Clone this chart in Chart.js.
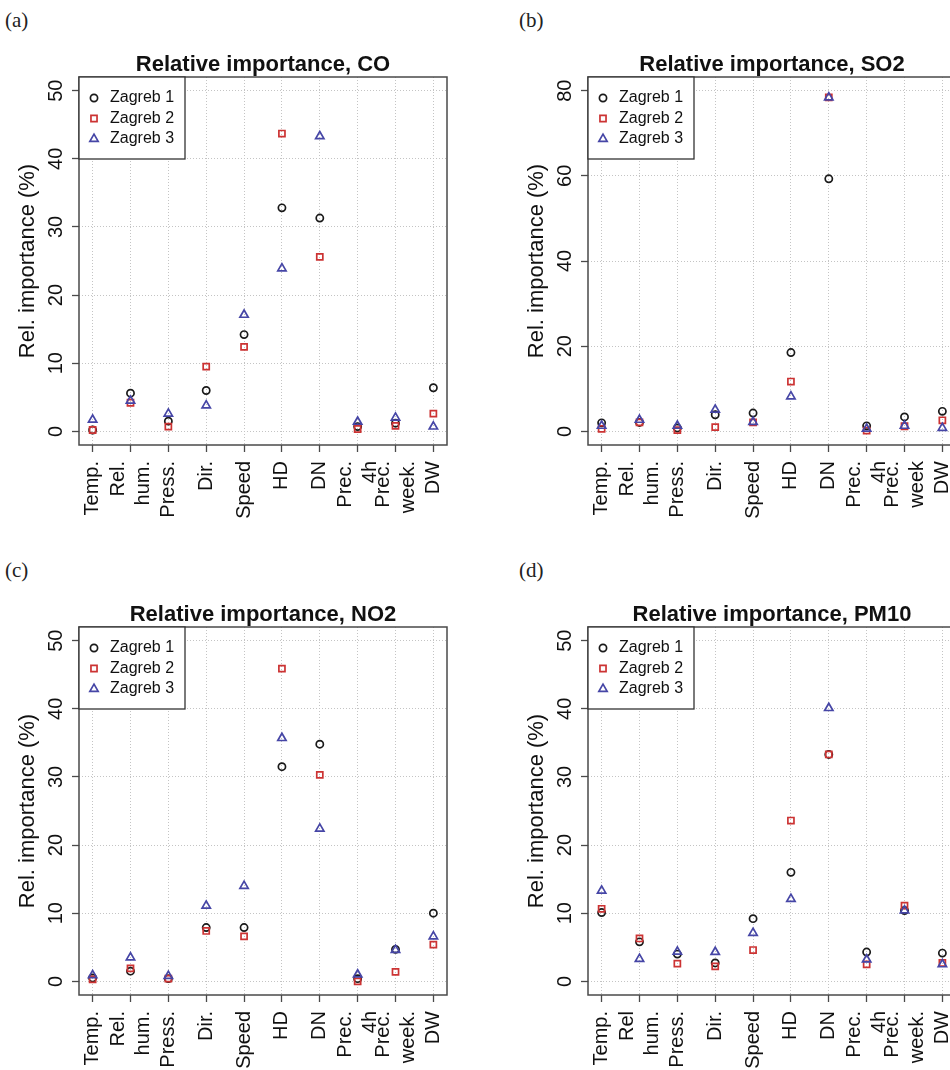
<!DOCTYPE html>
<html>
<head>
<meta charset="utf-8">
<script src="https://cdn.jsdelivr.net/npm/chart.js@4.4.1/dist/chart.umd.min.js"></script>
<style>
  html, body { margin: 0; padding: 0; background: #fff; }
  body { width: 950px; height: 1070px; overflow: hidden; position: relative; }
  canvas { position: absolute; }
  .tag { position: absolute; font-family: "Liberation Serif", "Times New Roman", serif; font-size: 21px; line-height: 21px; color: #222; }
</style>
</head>
<body>
<div class="tag" style="left:5px;top:10px">(a)</div>
<div class="tag" style="left:519px;top:10px">(b)</div>
<div class="tag" style="left:5px;top:560px">(c)</div>
<div class="tag" style="left:519px;top:560px">(d)</div>

<canvas id="chartCO" width="480" height="530" style="left:0px;top:0px"></canvas>
<canvas id="chartSO2" width="480" height="530" style="left:509px;top:0px"></canvas>
<canvas id="chartNO2" width="480" height="530" style="left:0px;top:550px"></canvas>
<canvas id="chartPM10" width="480" height="530" style="left:509px;top:550px"></canvas>

<script>
// --- data ---
const stations = ['Zagreb 1', 'Zagreb 2', 'Zagreb 3'];

const labelsCO   = [['Temp.'], ['Rel.', 'hum.'], ['Press.'], ['Dir.'], ['Speed'], ['HD'], ['DN'], ['Prec.', '4h'], ['Prec.', 'week.'], ['DW']];
const labelsSO2  = [['Temp.'], ['Rel.', 'hum.'], ['Press.'], ['Dir.'], ['Speed'], ['HD'], ['DN'], ['Prec.', '4h'], ['Prec.', 'week'], ['DW']];
const labelsNO2  = [['Temp.'], ['Rel.', 'hum.'], ['Press.'], ['Dir.'], ['Speed'], ['HD'], ['DN'], ['Prec.', '4h'], ['Prec.', 'week.'], ['DW']];
const labelsPM10 = [['Temp.'], ['Rel', 'hum.'], ['Press.'], ['Dir.'], ['Speed'], ['HD'], ['DN'], ['Prec.', '4h'], ['Prec.', 'week.'], ['DW']];

const coZ1 = [0.2, 5.6, 1.5, 6.0, 14.2, 32.8, 31.3, 0.7, 1.2, 6.4];
const coZ2 = [0.2, 4.2, 0.7, 9.5, 12.4, 43.7, 25.6, 0.35, 0.8, 2.6];
const coZ3 = [1.7, 4.5, 2.6, 3.8, 17.1, 23.9, 43.3, 1.4, 2.0, 0.7];

const so2Z1 = [2.0, 2.1, 0.8, 3.9, 4.3, 18.5, 59.3, 1.3, 3.4, 4.7];
const so2Z2 = [0.6, 2.1, 0.3, 1.0, 2.1, 11.7, 78.4, 0.2, 1.2, 2.6];
const so2Z3 = [1.3, 2.7, 1.3, 5.1, 2.2, 8.2, 78.4, 0.6, 1.3, 0.8];

const no2Z1 = [0.5, 1.5, 0.4, 7.9, 7.9, 31.5, 34.8, 0.4, 4.7, 10.0];
const no2Z2 = [0.3, 1.9, 0.4, 7.4, 6.6, 45.9, 30.3, 0.0, 1.4, 5.4];
const no2Z3 = [0.9, 3.5, 0.8, 11.1, 14.0, 35.7, 22.4, 1.0, 4.6, 6.6];

const pm10Z1 = [10.1, 5.8, 4.0, 2.7, 9.2, 16.0, 33.3, 4.3, 10.4, 4.15];
const pm10Z2 = [10.65, 6.3, 2.6, 2.2, 4.6, 23.6, 33.3, 2.5, 11.1, 2.7];
const pm10Z3 = [13.3, 3.3, 4.35, 4.3, 7.1, 12.1, 40.1, 3.2, 10.4, 2.5];

const ticks50 = [0, 10, 20, 30, 40, 50];
const ticks80 = [0, 20, 40, 60, 80];

// --- style ---
const FONT = '"Liberation Sans", Arial, Helvetica, sans-serif';
const colors = ['#1a1a1a', '#cc3333', '#4646a6'];
const shapes = ['circle', 'rect', 'triangle'];
const radii = [3.6, 4.3, 4.8];

function drawSymbol(ctx, shape, r, x, y, color) {
  ctx.save();
  ctx.strokeStyle = color;
  ctx.lineWidth = 1.7;
  ctx.beginPath();
  if (shape === 'circle') {
    ctx.arc(x, y, r, 0, Math.PI * 2);
  } else if (shape === 'rect') {
    const s = Math.SQRT1_2 * r;
    ctx.rect(x - s, y - s, 2 * s, 2 * s);
  } else {
    ctx.moveTo(x, y - r);
    ctx.lineTo(x + 0.866 * r, y + 0.5 * r);
    ctx.lineTo(x - 0.866 * r, y + 0.5 * r);
    ctx.closePath();
  }
  ctx.stroke();
  ctx.restore();
}

// draws the R-style frame, title, axis labels and legend
const rStylePlugin = {
  id: 'rStyle',
  afterDraw(chart, args, opts) {
    const ctx = chart.ctx;
    const a = chart.chartArea;
    const xs = chart.scales.x, ys = chart.scales.y;
    ctx.save();

    ctx.strokeStyle = '#4a4a4a';
    ctx.lineWidth = 1.5;
    ctx.strokeRect(a.left, a.top, a.right - a.left, a.bottom - a.top);

    ctx.fillStyle = '#111';
    ctx.font = 'bold 22px ' + FONT;
    ctx.textAlign = 'center';
    ctx.textBaseline = 'alphabetic';
    ctx.fillText(opts.title, (a.left + a.right) / 2, a.top - 6);

    // y tick labels, parallel to the axis
    ctx.font = '20px ' + FONT;
    ys.ticks.forEach(t => {
      ctx.save();
      ctx.translate(a.left - 23, ys.getPixelForValue(t.value));
      ctx.rotate(-Math.PI / 2);
      ctx.textAlign = 'center';
      ctx.textBaseline = 'middle';
      ctx.fillText(String(t.value), 0, 0);
      ctx.restore();
    });

    // x tick labels, perpendicular
    xs.ticks.forEach((t, i) => {
      const lines = opts.labels[i];
      ctx.save();
      ctx.translate(xs.getPixelForValue(t.value), a.bottom + 16);
      ctx.rotate(-Math.PI / 2);
      ctx.textAlign = 'right';
      ctx.textBaseline = 'middle';
      lines.forEach((s, k) => ctx.fillText(s, 0, (k - (lines.length - 1) / 2) * 25));
      ctx.restore();
    });

    ctx.font = '22px ' + FONT;
    ctx.save();
    ctx.translate(a.left - 51, (a.top + a.bottom) / 2);
    ctx.rotate(-Math.PI / 2);
    ctx.textAlign = 'center';
    ctx.textBaseline = 'middle';
    ctx.fillText('Rel. importance (%)', 0, 0);
    ctx.restore();

    // legend
    ctx.fillStyle = '#fff';
    ctx.fillRect(a.left, a.top, 106, 82);
    ctx.strokeStyle = '#333';
    ctx.lineWidth = 1.3;
    ctx.strokeRect(a.left, a.top, 106, 82);
    ctx.font = '16px ' + FONT;
    ctx.textAlign = 'left';
    ctx.textBaseline = 'middle';
    chart.data.datasets.forEach((ds, i) => {
      const y = a.top + 21 + i * 20.5;
      drawSymbol(ctx, shapes[i], radii[i], a.left + 15, y, colors[i]);
      ctx.fillStyle = '#111';
      ctx.fillText(ds.label, a.left + 31, y);
    });

    ctx.restore();
  }
};

function makeChart(id, title, labels, series, yTicks) {
  const top = yTicks[yTicks.length - 1];
  const datasets = series.map((vals, i) => ({
    label: stations[i],
    data: vals.map((v, k) => ({ x: k + 1, y: v })),
    pointStyle: shapes[i],
    pointRadius: radii[i],
    pointBorderWidth: 1.7,
    pointBorderColor: colors[i],
    pointBackgroundColor: 'rgba(0,0,0,0)',
    showLine: false,
    order: 3 - i
  }));

  const grid = {
    color: '#c4c4c4',
    lineWidth: 1,
    drawTicks: true,
    tickLength: 7,
    tickColor: '#4a4a4a',
    tickWidth: 1.3,
    tickBorderDash: []
  };
  // grid line dash lives under border in v4
  const border = { display: false, dash: [1, 2] };

  return new Chart(document.getElementById(id), {
    type: 'scatter',
    data: { datasets: datasets },
    options: {
      responsive: false,
      animation: false,
      devicePixelRatio: 1,
      layout: { padding: { top: 77, right: 33, left: 0, bottom: 0 } },
      plugins: {
        legend: { display: false },
        tooltip: { enabled: false },
        rStyle: { title: title, labels: labels }
      },
      scales: {
        x: {
          type: 'linear',
          min: 1 - 0.36,
          max: 10 + 0.36,
          grid: grid,
          border: border,
          ticks: { display: false },
          afterBuildTicks: s => { s.ticks = labels.map((_, k) => ({ value: k + 1 })); },
          afterFit: s => { s.height = 85; }
        },
        y: {
          type: 'linear',
          min: -0.04 * top,
          max: 1.04 * top,
          grid: grid,
          border: border,
          ticks: { display: false },
          afterBuildTicks: s => { s.ticks = yTicks.map(v => ({ value: v })); },
          afterFit: s => { s.width = 79; }
        }
      }
    },
    plugins: [rStylePlugin]
  });
}

makeChart('chartCO', 'Relative importance, CO', labelsCO, [coZ1, coZ2, coZ3], ticks50);
makeChart('chartSO2', 'Relative importance, SO2', labelsSO2, [so2Z1, so2Z2, so2Z3], ticks80);
makeChart('chartNO2', 'Relative importance, NO2', labelsNO2, [no2Z1, no2Z2, no2Z3], ticks50);
makeChart('chartPM10', 'Relative importance, PM10', labelsPM10, [pm10Z1, pm10Z2, pm10Z3], ticks50);
</script>
</body>
</html>
